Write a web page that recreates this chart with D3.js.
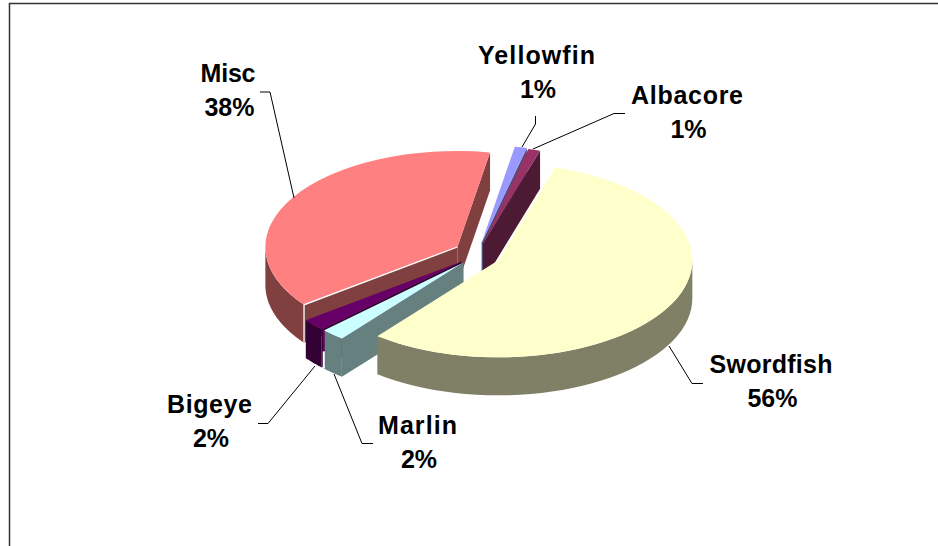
<!DOCTYPE html>
<html><head><meta charset="utf-8">
<script src="https://cdn.jsdelivr.net/npm/d3@7"></script>
<style>html,body{margin:0;padding:0;background:#fff}svg{display:block}</style>
</head><body><svg id="c" width="938" height="546"></svg>
<script>
const categories = ["Swordfish","Marlin","Bigeye","Misc","Yellowfin","Albacore"];
const values = [56,2,2,38,1,1];
const topColors = ["#FFFFCC","#CCFFFF","#660066","#FF8080","#9999FF","#993366"];
const sideColors = ["#808066","#668080","#330033","#804040","#4D4D80","#4D1A33"];
const labelPos = [[771,373],[417.5,434],[209.5,413],[228,82],[536.5,64],[687,104]];
const labelWidths = [123,79,85,55,117,112];
const leaders = [
  [[669,346],[692,383.5],[703,383.5]],
  [[373,443.5],[362,443.5],[334,374]],
  [[258,423.5],[268,423.5],[315,366]],
  [[260,92],[270,92],[294,198]],
  [[535.5,116],[535.5,124],[522,147]],
  [[625,113.5],[614,113.5],[533,149]]
];
const drawOrder = [3,4,5,2,1,0];
const sliceRadius = [194,195,195,192,195,195];
const sliceNudge = [[1,0],[2,-1],[2,-1],[0,-2],[0,-1],[0,0]];

const cx=477, cy=255, tilt=0.5, depth=38, explode=23, startDeg=17;
const svg=d3.select("#c");
const pieGen=d3.pie().sort(null).value(d=>d).startAngle(startDeg*Math.PI/180).endAngle((startDeg+360)*Math.PI/180);
const arcs=pieGen(values);
const area=d3.area().x(d=>d[0]).y0(d=>d[1]).y1(d=>d[1]+depth);

svg.append("path").attr("d","M9.5,546V3.5H938").attr("fill","none").attr("stroke","#333").attr("stroke-width",1.5);

drawOrder.forEach(i=>{
  const a=arcs[i], mid=(a.startAngle+a.endAngle)/2, R=sliceRadius[i];
  const px=t=>R*Math.sin(t), py=t=>-R*Math.cos(t)*tilt;
  const arcGen=d3.arc().innerRadius(0).outerRadius(R);
  const g=svg.append("g").attr("transform",`translate(${cx+explode*Math.sin(mid)+sliceNudge[i][0]},${cy-explode*Math.cos(mid)*tilt+sliceNudge[i][1]})`);
  const side=sideColors[i];
  if(-Math.sin(a.startAngle)>0) g.append("path").attr("d",area([[0,0],[px(a.startAngle),py(a.startAngle)]])).attr("fill",side);
  if(Math.sin(a.endAngle)>0) g.append("path").attr("d",area([[0,0],[px(a.endAngle),py(a.endAngle)]])).attr("fill",side);
  const lo=Math.max(a.startAngle,Math.PI/2), hi=Math.min(a.endAngle,Math.PI*1.5);
  if(hi>lo){
    const pts=d3.range(0,41).map(k=>{const t=lo+(hi-lo)*k/40;return [px(t),py(t)];});
    g.append("path").attr("d",area(pts)).attr("fill",side);
  }
  g.append("path").attr("d",arcGen(a)).attr("transform",`scale(1,${tilt})`).attr("fill",topColors[i]);
  if(categories[i]==="Misc"){
    const s=a.startAngle;
    g.append("path").attr("d",d3.line()([[0,0],[px(s),py(s)],[px(s),py(s)+depth]])).attr("fill","none").attr("stroke","#fff").attr("stroke-width",1.3);
  }
  if(categories[i]==="Marlin"){
    const e=a.endAngle;
    g.append("path").attr("d",d3.line()([[px(e),py(e)],[px(e),py(e)+depth*0.55]])).attr("fill","none").attr("stroke","#660066").attr("stroke-width",2);
    g.append("path").attr("d",d3.line()([[px(e),py(e)+depth*0.55],[px(e),py(e)+depth]])).attr("fill","none").attr("stroke","#fff").attr("stroke-width",2);
  }
});

const line=d3.line();
leaders.forEach(p=>svg.append("path").attr("d",line(p)).attr("fill","none").attr("stroke","#000").attr("stroke-width",1));

categories.forEach((c,i)=>{
  const t=svg.append("text").attr("text-anchor","middle").attr("font-family","'Liberation Sans',Arial,sans-serif").attr("font-weight","bold").attr("font-size",25).attr("fill","#000");
  t.append("tspan").attr("x",labelPos[i][0]).attr("y",labelPos[i][1]).attr("textLength",labelWidths[i]).attr("lengthAdjust","spacing").text(c);
  t.append("tspan").attr("x",labelPos[i][0]+1.5).attr("y",labelPos[i][1]+34).text(values[i]+"%");
});
</script></body></html>
